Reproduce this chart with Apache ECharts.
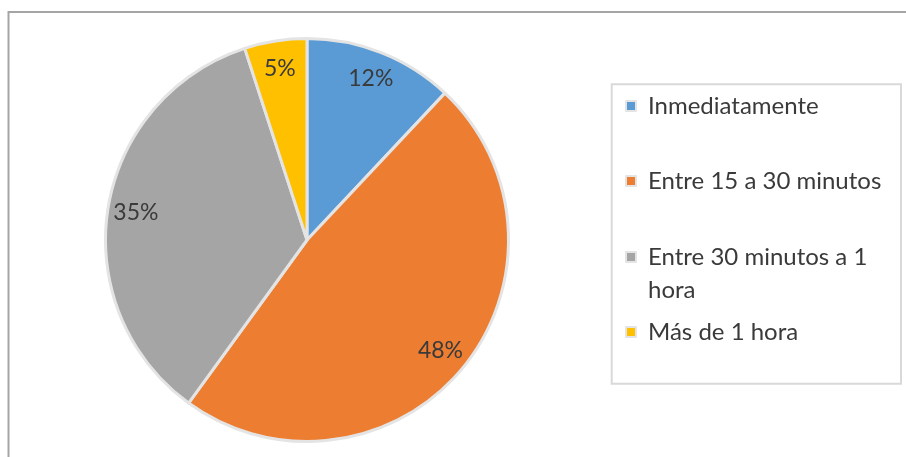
<!DOCTYPE html>
<html>
<head>
<meta charset="utf-8">
<script src="https://cdn.jsdelivr.net/npm/echarts@6/dist/echarts.min.js"></script>
<style>
  html, body { margin: 0; padding: 0; background: #fff; }
  #chart { width: 906px; height: 457px; }
</style>
</head>
<body>
<div id="chart"></div>
<script>
// datos del gráfico
var categories = ['Inmediatamente', 'Entre 15 a 30 minutos', 'Entre 30 minutos a 1 hora', 'Más de 1 hora'];
var values = [12, 48, 35, 5];
var colors = ['#5b9bd5', '#ed7d31', '#a5a5a5', '#ffc000'];

var chart = echarts.init(document.getElementById('chart'));

var pieData = categories.map(function (name, i) {
  return { name: name, value: values[i] };
});

// centro vertical de cada icono de la leyenda (px)
var legendCenters = [106, 181, 257, 332];
var lineH = 33;

var legend = categories.map(function (name, i) {
  var multi = name.length > 22;
  return {
    data: [name],
    orient: 'vertical',
    left: 625,
    top: legendCenters[i] - (multi ? lineH * 1.5 : lineH / 2),
    padding: 0,
    itemWidth: 10,
    itemHeight: 10,
    icon: 'rect',
    selectedMode: false,
    formatter: function (n) {
      if (n.length > 22) {
        var k = n.lastIndexOf(' ');
        return '\n' + n.slice(0, k) + '\n' + n.slice(k + 1);
      }
      return n;
    },
    textStyle: {
      color: '#3a3a3a',
      fontSize: 24,
      fontFamily: 'Lato',
      lineHeight: lineH,
      padding: [0, 0, 0, 7]
    }
  };
});

var option = {
  color: colors,
  animation: false,
  legend: legend,
  graphic: [
    {
      type: 'polyline',
      silent: true,
      shape: { points: [[8.5, 457], [8.5, 12], [906, 12]] },
      style: { stroke: '#a5a5a5', lineWidth: 2, fill: null }
    },
    {
      type: 'rect',
      silent: true,
      shape: { x: 611.7, y: 84.3, width: 289.3, height: 299.4 },
      style: { stroke: '#d9d9d9', lineWidth: 2, fill: null }
    }
  ],
  series: [
    {
      type: 'pie',
      center: [307, 240],
      radius: [0, 201.5],
      startAngle: 90,
      clockwise: true,
      data: pieData,
      label: { show: false },
      labelLine: { show: false },
      itemStyle: { borderColor: '#e4e4e4', borderWidth: 3 },
      emphasis: { disabled: true }
    },
    {
      // serie transparente solo para colocar las etiquetas de porcentaje
      type: 'pie',
      center: [307, 240],
      radius: [139, 201.5],
      startAngle: 90,
      clockwise: true,
      silent: true,
      data: pieData,
      itemStyle: { color: 'rgba(0,0,0,0)', borderWidth: 0 },
      label: {
        show: true,
        position: 'inside',
        formatter: '{c}%',
        color: '#3a3a3a',
        fontSize: 23,
        fontFamily: 'Lato'
      },
      labelLine: { show: false },
      emphasis: { disabled: true }
    }
  ]
};

option && chart.setOption(option);
</script>
</body>
</html>
